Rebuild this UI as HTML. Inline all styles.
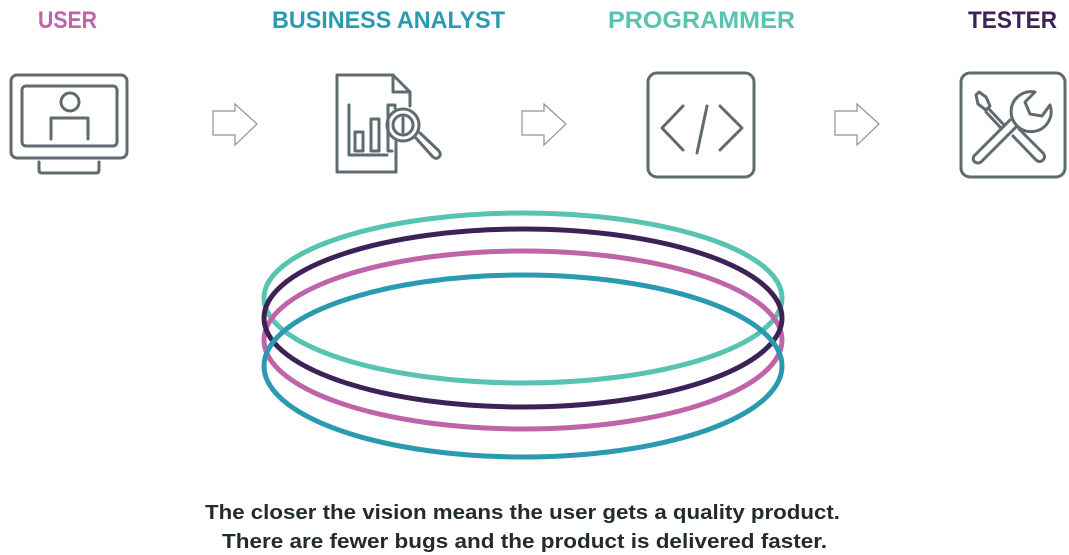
<!DOCTYPE html>
<html><head><meta charset="utf-8"><style>
html,body{margin:0;padding:0;background:#fff;}
svg{display:block;}
</style></head><body>
<svg width="1069" height="555" viewBox="0 0 1069 555" xmlns="http://www.w3.org/2000/svg">
<g font-family="Liberation Sans, sans-serif" font-weight="bold" font-size="24">
<text x="38" y="28" fill="#bf64a8" textLength="59" lengthAdjust="spacingAndGlyphs">USER</text>
<text x="272" y="28" fill="#2a9ab0" textLength="233" lengthAdjust="spacingAndGlyphs">BUSINESS ANALYST</text>
<text x="608" y="28" fill="#57c3b0" textLength="187" lengthAdjust="spacingAndGlyphs">PROGRAMMER</text>
<text x="968" y="28" fill="#3d2257" textLength="89" lengthAdjust="spacingAndGlyphs">TESTER</text>
</g>
<g fill="none" stroke="#5f6b6f" stroke-width="3" stroke-linecap="round" stroke-linejoin="round">
<!-- monitor -->
<rect x="11" y="75" width="116" height="83" rx="6"/>
<rect x="22" y="86" width="95" height="60" rx="4"/>
<path d="M39 162 V170 Q39 173 42 173 H96 Q99 173 99 170 V162"/>
<circle cx="70" cy="102" r="9"/>
<path d="M51 139 V118 H88 V139"/>
<!-- doc -->
<path d="M396 142 V172 H337 V75 H393 L410 92 V106"/>
<path d="M393 75 V92 H410"/>
<path d="M349 105 V155 H387"/>
<rect x="355" y="132" width="8" height="19"/>
<rect x="371" y="119" width="8" height="32"/>
<path d="M395 108 V105 H388 V151 H392"/>
<circle cx="403" cy="125" r="16"/>
<circle cx="403" cy="125" r="10"/>
<line x1="403" y1="118" x2="403" y2="132"/>
<path d="M415 137 L432 156 Q436 160 439 157 Q442 154 438 150 L420 133"/>
<!-- code -->
<rect x="648" y="73" width="106" height="104" rx="9"/>
<path d="M683 106 L662 128 L683 150"/>
<path d="M707 106 L697 153"/>
<path d="M720 106 L742 128 L720 150"/>
<!-- tester -->
<rect x="961" y="73" width="104" height="104" rx="9"/>
<path d="M976 95 L979 92 L986 97 L990 106 L986 110 L978 104 Z"/>
<path d="M989 109 L1004 125 M986 112 L1000 127"/>
<path d="M1013 136 L1036 160 Q1040 163 1043 160 Q1046 157 1043 153 L1019 129"/>
<path d="M1010 120 L974 156 Q972 160 975 162 Q978 164 981 162 L1017 126"/>
<path d="M1035 92 L1025 102 L1030 114 L1042 116 L1050 105 A20 20 0 1 1 1035 92 Z"/>
</g>
<!-- arrows -->
<g fill="#fff" stroke="#8a9497" stroke-width="1.2">
<path d="M213 111 H235 V104 L257 124 L235 145 V135 H213 Z"/>
<path d="M522 111 H544 V104 L566 124 L544 145 V135 H522 Z"/>
<path d="M835 111 H857 V104 L879 124 L857 145 V135 H835 Z"/>
</g>
<!-- ellipses -->
<g fill="none" stroke-width="5">
<ellipse cx="523" cy="298" rx="259" ry="85" stroke="#57c3b0"/>
<ellipse cx="523" cy="340" rx="259" ry="89" stroke="#bf64a8"/>
<ellipse cx="523" cy="318" rx="259" ry="89" stroke="#3d2257"/>
<ellipse cx="523" cy="366" rx="259" ry="91" stroke="#2a9ab0"/>
</g>
<g font-family="Liberation Sans, sans-serif" font-weight="bold" font-size="20" fill="#222b2d">
<text x="205" y="519" textLength="635" lengthAdjust="spacingAndGlyphs">The closer the vision means the user gets a quality product.</text>
<text x="222" y="548" textLength="605" lengthAdjust="spacingAndGlyphs">There are fewer bugs and the product is delivered faster.</text>
</g>
</svg>
</body></html>
